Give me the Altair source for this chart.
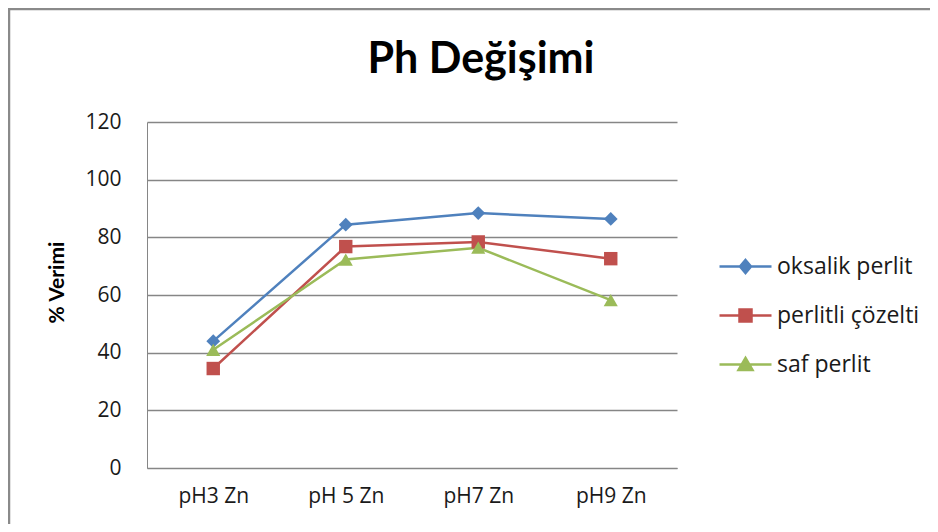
import altair as alt
import pandas as pd

categories = ["pH3 Zn", "pH 5 Zn", "pH7 Zn", "pH9 Zn"]
series_names = ["oksalik perlit", "perlitli çözelti", "saf perlit"]
oksalik = [44.0, 84.4, 88.4, 86.4]
perlitli = [34.5, 76.8, 78.4, 72.6]
saf = [41.0, 72.3, 76.4, 58.2]
y_ticks = [0, 20, 40, 60, 80, 100, 120]
colors = ["#4F81BD", "#C0504D", "#9BBB59"]
marker_shapes = ["diamond", "square", "triangle-up"]
marker_sizes = [190, 180, 200]

rows = []
for name, vals in zip(series_names, [oksalik, perlitli, saf]):
    for c, v in zip(categories, vals):
        rows.append({"seri": name, "kat": c, "deger": v})
df = pd.DataFrame(rows)

FONT = "Lato"
TFONT = "Open Sans"

legend_paths = [
    "M-2.6,0H2.6M0,-0.65L0.55,0L0,0.65L-0.55,0Z",
    "M-2.6,0H2.6M-0.6,-0.6H0.6V0.6H-0.6Z",
    "M-2.6,0H2.6M0,-0.65L0.7,0.55H-0.7Z",
]

x_enc = alt.X("kat:N", sort=categories, scale=alt.Scale(padding=0.5),
              axis=alt.Axis(title=None, labelFontSize=21, labelFont=TFONT, labelColor="#1a1a1a",
                            labelPadding=17, ticks=False, domainColor="#868686", labelAngle=0,
                            grid=False))
y_enc = alt.Y("deger:Q", scale=alt.Scale(domain=[0, 120], nice=False),
              axis=alt.Axis(values=y_ticks, title="% Verimi", titleFontSize=21, titleFont=FONT,
                            titleFontWeight="bold", titleColor="#000000", titlePadding=17,
                            titleY=160,
                            labelFontSize=21, labelFont=TFONT, labelColor="#1a1a1a",
                            labelPadding=26, ticks=False, domainColor="#868686",
                            gridColor="#868686", gridWidth=1.3))

frame = alt.Chart(pd.DataFrame({"k": [0]})).mark_rect(
    fill=None, stroke="#8a8a8a", strokeWidth=2.5).encode(
    x=alt.value(-138), x2=alt.value(900), y=alt.value(-113), y2=alt.value(600))

layers = [frame]
for name, col, shp, sz in zip(series_names, colors, marker_shapes, marker_sizes):
    sub = df[df["seri"] == name]
    layers.append(alt.Chart(sub).mark_line(strokeWidth=2.5, color=col).encode(x=x_enc, y=y_enc))
for name, col, shp, sz in zip(series_names, colors, marker_shapes, marker_sizes):
    sub = df[df["seri"] == name]
    layers.append(alt.Chart(sub).mark_point(filled=True, opacity=1, size=sz, shape=shp,
                                            color=col).encode(x=x_enc, y=y_enc))

leg = alt.Legend(title=None, orient="none", legendX=587, legendY=133,
                 symbolSize=400, symbolStrokeWidth=2.5, symbolOpacity=1, rowPadding=25,
                 labelFontSize=23, labelFont=TFONT, labelColor="#1a1a1a",
                 labelOffset=20, padding=0)
legend_layer = alt.Chart(df).mark_point(filled=True, opacity=0, size=1).encode(
    x=x_enc, y=y_enc,
    color=alt.Color("seri:N", scale=alt.Scale(domain=series_names, range=colors), legend=leg),
    stroke=alt.Stroke("seri:N", scale=alt.Scale(domain=series_names, range=colors), legend=leg),
    shape=alt.Shape("seri:N", scale=alt.Scale(domain=series_names, range=legend_paths), legend=leg),
)
layers.append(legend_layer)

chart = alt.layer(*layers).properties(
    width=530, height=346,
    autosize=alt.AutoSizeParams(type="none"),
    padding={"left": 139, "top": 114, "right": 253, "bottom": 56},
    title=alt.TitleParams("Ph Değişimi", fontSize=43, font=FONT, fontWeight="bold",
                          color="#000000", dx=69, dy=74, offset=0, anchor="middle"),
).configure_view(stroke=None)

chart.save("out.html", embed_options={"renderer": "svg", "actions": False})
